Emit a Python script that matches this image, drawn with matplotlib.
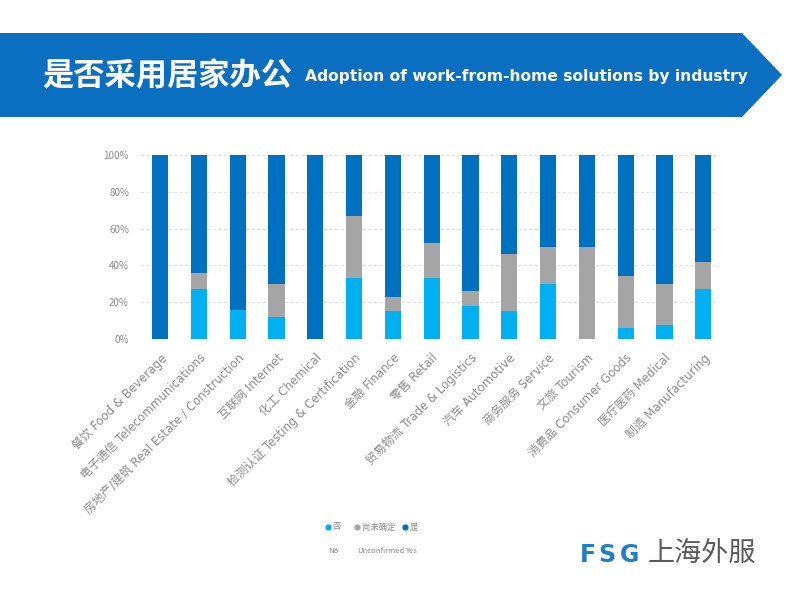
import matplotlib
matplotlib.use("Agg")
import matplotlib.pyplot as plt
from matplotlib.patches import Polygon
import numpy as np

plt.rcParams['font.family'] = ['Noto Sans CJK SC', 'DejaVu Sans']

categories = [
    "餐饮 Food & Beverage",
    "电子通信 Telecommunications",
    "房地产/建筑 Real Estate / Construction",
    "互联网 Internet",
    "化工 Chemical",
    "检测认证 Testing & Certification",
    "金融 Finance",
    "零售 Retail",
    "贸易物流 Trade & Logistics",
    "汽车 Automotive",
    "商务服务 Service",
    "文旅 Tourism",
    "消费品 Consumer Goods",
    "医疗医药 Medical",
    "制造 Manufacturing",
]
no_vals = [0, 27, 16, 12, 0, 33.3, 15, 33.3, 18, 15, 30, 0, 6, 7.5, 27]
unconfirmed_vals = [0, 9, 0, 18, 0, 33.3, 8, 19, 8, 31, 20, 50, 28, 22.5, 15]
yes_vals = [100 - a - b for a, b in zip(no_vals, unconfirmed_vals)]
ytick_labels = ["0%", "20%", "40%", "60%", "80%", "100%"]

C_NO = "#00B0F0"
C_UNC = "#A5A5A5"
C_YES = "#0070C0"
GREY_TXT = "#8C8C8C"

W, H = 800, 599
fig = plt.figure(figsize=(8, 5.99), dpi=100)

# overlay axes in pixel coordinates
ov = fig.add_axes([0, 0, 1, 1], zorder=0)
ov.set_xlim(0, W)
ov.set_ylim(H, 0)
ov.axis("off")

banner = Polygon([(0, 33), (742, 33), (782, 75), (742, 117), (0, 117)],
                 closed=True, facecolor="#0B6FC1", edgecolor="none")
ov.add_patch(banner)
ov.text(42, 76, "是否采用居家办公", color="white", fontsize=22.5, fontweight="bold",
        va="center", ha="left")
ov.text(305, 77, "Adoption of work-from-home solutions by industry", color="white",
        fontsize=11.2, fontweight="bold", va="center", ha="left",
        family=["DejaVu Sans"])

# legend
leg_cn = ["否", "尚未确定", "是"]
leg_en = ["No", "Unconfirmed", "Yes"]
leg_cols = [C_NO, C_UNC, C_YES]
leg_x = [328, 357, 405]
for x, cn, en, c in zip(leg_x, leg_cn, leg_en, leg_cols):
    ov.scatter([x], [527], s=12, color=c, marker="o", zorder=3)
    ov.text(x + 5, 527, cn, fontsize=6, color=GREY_TXT, va="center", ha="left")
    ov.text(x, 551, en, fontsize=5.5, color=GREY_TXT, va="center", ha="left")

# logo
for xx, ch in zip([580, 598, 620], "FSG"):
    ov.text(xx, 555, ch, fontsize=17, fontweight="bold", color="#1E7FC8",
            va="center", ha="left", family=["DejaVu Sans"])
ov.text(648, 554, "上海外服", fontsize=19.5, color="#5A5A5A",
        va="center", ha="left")

# main chart
ax = fig.add_axes([140 / W, 1 - 339 / H, (718 - 140) / W, (339 - 155) / H], zorder=1)
ax.patch.set_alpha(0)
x = np.arange(len(categories))
bw = 0.42
no_f = np.array(no_vals) / 100
unc_f = np.array(unconfirmed_vals) / 100
yes_f = np.array(yes_vals) / 100
ax.bar(x, no_f, bw, color=C_NO, zorder=2)
ax.bar(x, unc_f, bw, bottom=no_f, color=C_UNC, zorder=2)
ax.bar(x, yes_f, bw, bottom=no_f + unc_f, color=C_YES, zorder=2)

ax.set_ylim(0, 1)
ax.set_xlim(-0.52, 14.38)
ax.set_yticks(np.linspace(0, 1, 6))
ax.set_yticklabels(ytick_labels, fontsize=7, color=GREY_TXT)
ax.yaxis.grid(True, color="#E3E3E3", linewidth=0.8, linestyle=(0, (3, 2)), zorder=0)
ax.tick_params(axis="y", length=0, pad=8)
ax.tick_params(axis="x", length=0, pad=9)
for s in ax.spines.values():
    s.set_visible(False)
ax.set_xticks(x)
ax.set_xticklabels(categories, rotation=45, ha="right", rotation_mode="anchor",
                   fontsize=8.5, color=GREY_TXT, family=["DejaVu Sans", "Noto Sans CJK SC"])

fig.savefig("out.png", dpi=100)
